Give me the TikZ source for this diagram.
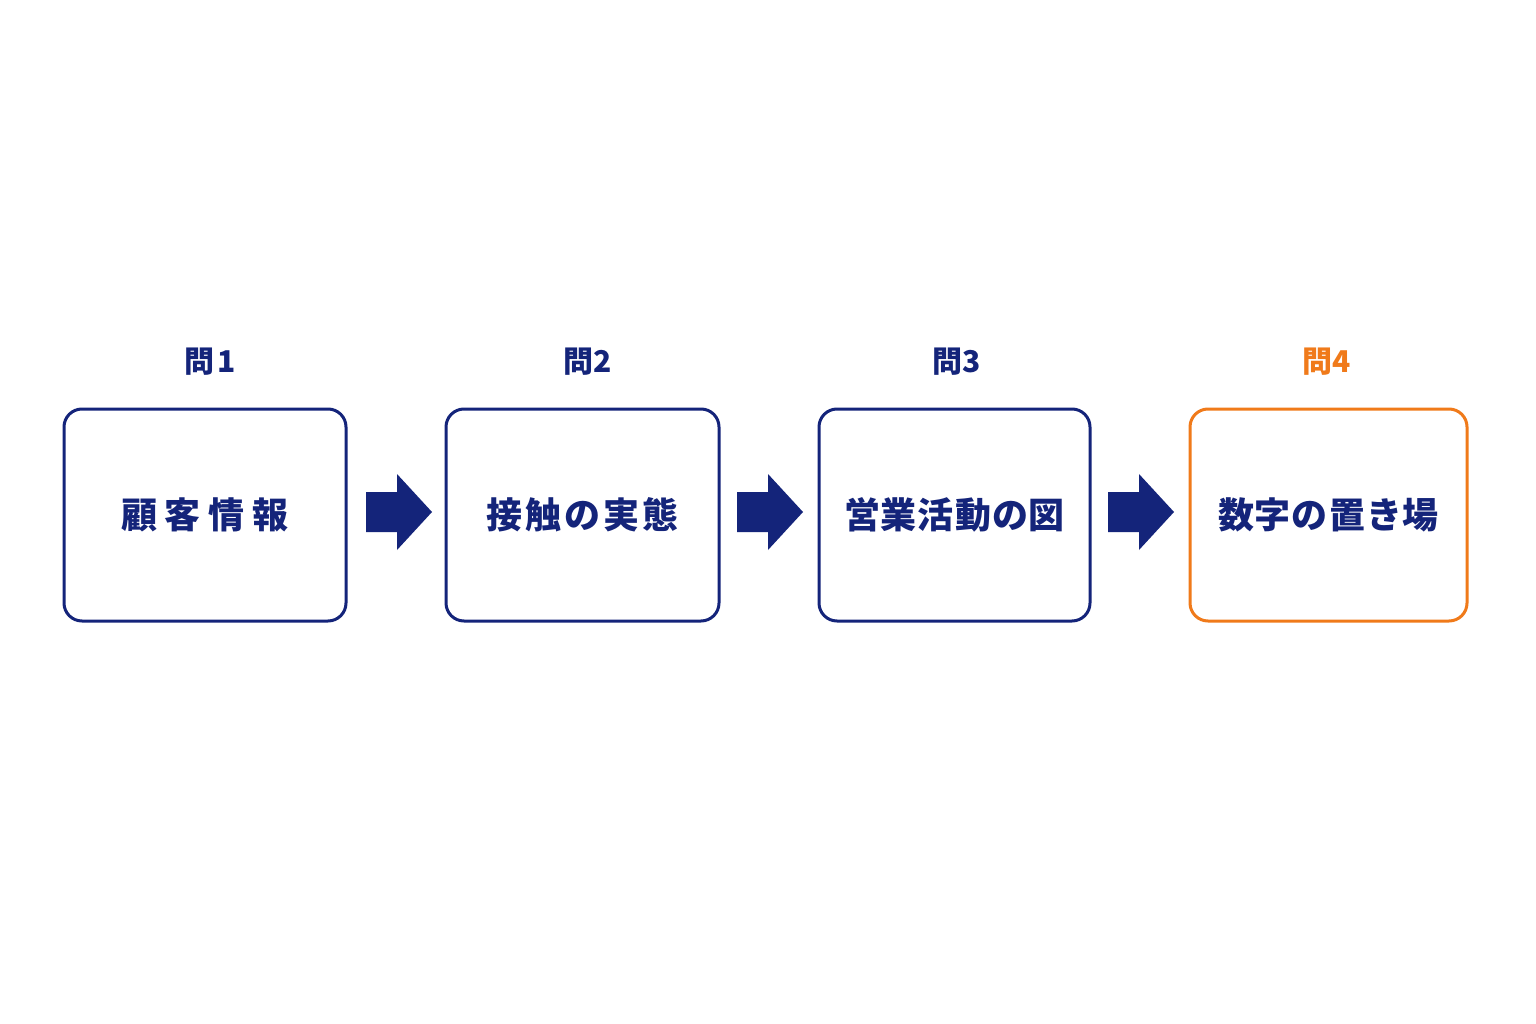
\documentclass[tikz,border=0pt]{standalone}
\usepackage{fontspec}
\newfontfamily\cjk{Noto Sans CJK JP}
\usetikzlibrary{calc}
\definecolor{navy}{HTML}{14247A}
\definecolor{org}{HTML}{F07A1A}
\begin{document}
\begin{tikzpicture}[x=1pt,y=-1pt,
  box/.style={draw=navy,line width=3pt,rounded corners=18pt,minimum height=212pt,font=\cjk\bfseries\fontsize{36}{40}\selectfont,text=navy},
  lab/.style={font=\cjk\bfseries\fontsize{30}{34}\selectfont,text=navy},
  blk/.style={fill=navy,draw=none}]
\useasboundingbox (0,0) rectangle (1536,1024);
\fill[white] (0,0) rectangle (1536,1024);
\node[box,minimum width=282pt] (b1) at (205,515) {顧\hspace{8pt}客\hspace{8pt}情\hspace{8pt}報};
\node[box,minimum width=273pt] (b2) at (582.5,515) {接\hspace{3pt}触\hspace{3pt}の\hspace{3pt}実\hspace{3pt}態};
\node[box,minimum width=271pt] (b3) at (954.5,515) {営\hspace{1pt}業\hspace{1pt}活\hspace{1pt}動\hspace{1pt}の\hspace{1pt}図};
\node[box,minimum width=277pt,draw=org] (b4) at (1328.5,515) {数\hspace{1pt}字\hspace{1pt}の\hspace{1pt}置\hspace{1pt}き\hspace{1pt}場};
\node[lab] (l1) at (210,362) {問\hspace{3pt}1};
\node[lab] (l2) at (588,362) {問2};
\node[lab] (l3) at (957,362) {問3};
\node[lab,text=org] (l4) at (1327,362) {問4};
\foreach \a/\s in {b1/366,b2/737,b3/1108}{
  \fill[navy] (\s,492) -- (\s+31,492) -- (\s+31,474) -- (\s+66,512) -- (\s+31,550) -- (\s+31,532) -- (\s,532) -- cycle;
}
\end{tikzpicture}
\end{document}
